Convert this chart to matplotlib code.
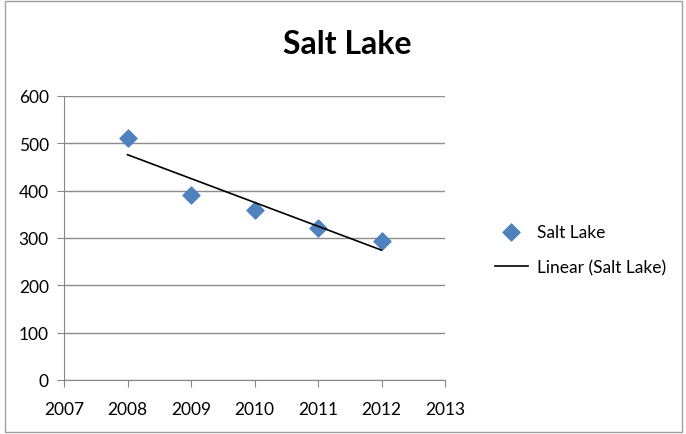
import numpy as np
import matplotlib.pyplot as plt
from matplotlib.patches import Rectangle

years = [2008, 2009, 2010, 2011, 2012]
values = [511, 391, 359, 321, 294]
yticks = [0, 100, 200, 300, 400, 500, 600]
xticks = [2007, 2008, 2009, 2010, 2011, 2012, 2013]

plt.rcParams['font.family'] = ['Lato', 'DejaVu Sans']

fig = plt.figure(figsize=(6.86, 4.35), dpi=100)
fig.patches.append(Rectangle((0.008, 0.005), 0.986, 0.99, transform=fig.transFigure,
                             fill=False, edgecolor='#a0a0a0', linewidth=1))

ax = fig.add_axes([64 / 686, 1 - 381 / 435, (445 - 64) / 686, (381 - 97) / 435])

# linear trendline from the data
slope, icpt = np.polyfit(years, values, 1)
trend = [slope * x + icpt for x in years]

ax.scatter(years, values, marker='D', s=75, color='#4F81BD', zorder=3, label='Salt Lake')
ax.plot([years[0], years[-1]], [trend[0], trend[-1]], color='black', linewidth=1.2,
        zorder=4, label='Linear (Salt Lake)')

ax.set_xlim(2007, 2013)
ax.set_ylim(0, 600)
ax.set_xticks(xticks)
ax.set_yticks(yticks)
ax.grid(axis='y', color='#8c8c8c', linewidth=1)
ax.set_axisbelow(True)
for s in ['top', 'right']:
    ax.spines[s].set_visible(False)
for s in ['left', 'bottom']:
    ax.spines[s].set_color('#868686')
ax.tick_params(colors='#868686', labelcolor='black', labelsize=12.5, length=5)
ax.tick_params(axis='x', pad=10)
ax.tick_params(axis='y', pad=6)

fig.text(347 / 686, 1 - 45 / 435, 'Salt Lake', ha='center', va='center',
         fontsize=23, fontweight='bold')

leg = ax.legend(loc='center left', bbox_to_anchor=(1.09, 0.46), frameon=False,
                fontsize=12.5, handlelength=1.9, handletextpad=0.5, labelspacing=1.1)

fig.savefig('out.png', dpi=100)
